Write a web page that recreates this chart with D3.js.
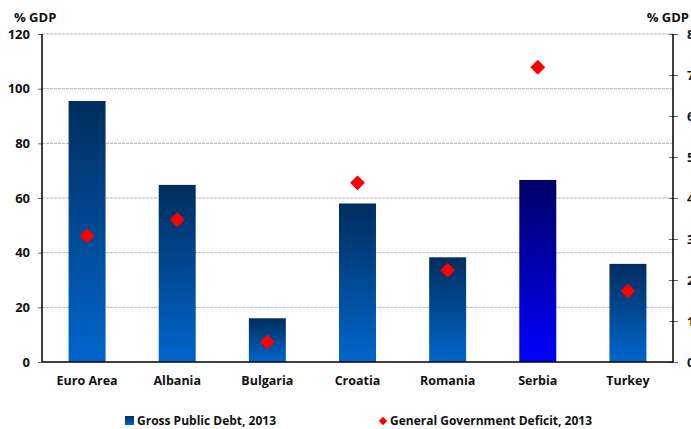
<!DOCTYPE html>
<html><head><meta charset="utf-8">
<script src="https://cdn.jsdelivr.net/npm/d3@7"></script>
<style>body{margin:0;background:#fff}svg{display:block}text{font-family:"Open Sans",sans-serif;font-weight:700;fill:#111}</style>
</head><body><svg id="c" width="691" height="429"></svg>
<script>
const categories = ["Euro Area","Albania","Bulgaria","Croatia","Romania","Serbia","Turkey"];
const debt = [95.5, 64.8, 16, 58, 38.3, 66.6, 35.9];
const deficit = [3.08, 3.47, 0.49, 4.37, 2.24, 7.19, 1.73];
const leftTicks = [0,20,40,60,80,100,120];
const rightTicks = [0,1,2,3,4,5,6,7,8];
const seriesNames = ["Gross Public Debt, 2013","General Government Deficit, 2013"];

const svg = d3.select("#c");
const L = 42, R = 673, T = 34, B = 362;
const x = d3.scaleBand().domain(categories).range([L, R]).paddingInner(0.59).paddingOuter(0.295);
const yL = d3.scaleLinear().domain([0,120]).range([B, T]);
const yR = d3.scaleLinear().domain([0,8]).range([B, T]);

const defs = svg.append("defs");
function grad(id, top, bot){
  const g = defs.append("linearGradient").attr("id", id).attr("x1",0).attr("y1",0).attr("x2",0).attr("y2",1);
  g.append("stop").attr("offset","0%").attr("stop-color",top);
  g.append("stop").attr("offset","100%").attr("stop-color",bot);
}
grad("gBlue","#002d5e","#0066cc");
grad("gSerbia","#000066","#0000ff");

// gridlines
svg.append("g").selectAll("line").data(leftTicks.filter(d=>d>0)).join("line")
  .attr("x1", L).attr("x2", R).attr("y1", d=>yL(d)).attr("y2", d=>yL(d))
  .attr("stroke","#b0b0b0").attr("stroke-width",1).attr("stroke-dasharray","3,1");

// bars
svg.append("g").selectAll("rect").data(categories).join("rect")
  .attr("x", d=>x(d)).attr("width", x.bandwidth())
  .attr("y", (d,i)=>yL(debt[i])).attr("height", (d,i)=>yL(0)-yL(debt[i]))
  .attr("fill", d=> d==="Serbia" ? "url(#gSerbia)" : "url(#gBlue)");

// diamonds
const dsym = d3.symbol().type(d3.symbolSquare).size(110);
svg.append("g").selectAll("path").data(categories).join("path")
  .attr("d", dsym)
  .attr("transform", (d,i)=>`translate(${x(d)+x.bandwidth()/2},${yR(deficit[i])}) rotate(45)`)
  .attr("fill","#ff0000");

// axes
const la = d3.axisLeft(yL).tickValues(leftTicks).tickSize(4).tickPadding(8);
const gl = svg.append("g").attr("transform",`translate(${L},0)`).call(la);
gl.select(".domain").remove();
gl.selectAll(".tick line").attr("stroke","#666");
gl.selectAll(".tick text").style("font-size","13px");
svg.append("line").attr("x1",L).attr("x2",L).attr("y1",T).attr("y2",B).attr("stroke","#000").attr("stroke-width",1.5);

const ra = d3.axisRight(yR).tickValues(rightTicks).tickSize(5).tickPadding(9);
const gr = svg.append("g").attr("transform",`translate(${R},0)`).call(ra);
gr.select(".domain").remove();
gr.selectAll(".tick line").attr("stroke","#666").attr("x1",-4);
gr.selectAll(".tick text").style("font-size","13px");
svg.append("line").attr("x1",R).attr("x2",R).attr("y1",T).attr("y2",B).attr("stroke","#000").attr("stroke-width",1.5);

const xa = d3.axisBottom(x).tickSize(0).tickPadding(14);
const gx = svg.append("g").attr("transform",`translate(0,${B})`).call(xa);
gx.select(".domain").remove();
gx.selectAll(".tick text").style("font-size","12.5px");
svg.append("line").attr("x1",L).attr("x2",R).attr("y1",B).attr("y2",B).attr("stroke","#000").attr("stroke-width",1.5);

// axis titles
svg.append("text").attr("x",14).attr("y",22).style("font-size","13px").text("% GDP");
svg.append("text").attr("x",689).attr("y",22).attr("text-anchor","end").style("font-size","13px").text("% GDP");

// legend
const lg = svg.append("g");
lg.append("rect").attr("x",125).attr("y",416).attr("width",9).attr("height",9).attr("fill","url(#gBlue)");
lg.append("text").attr("x",137).attr("y",425).style("font-size","12px").text(seriesNames[0]);
lg.append("path").attr("d", d3.symbol().type(d3.symbolSquare).size(36))
  .attr("transform","translate(383,421) rotate(45)").attr("fill","#ff0000");
lg.append("text").attr("x",390).attr("y",425).style("font-size","12px").text(seriesNames[1]);
</script></body></html>
